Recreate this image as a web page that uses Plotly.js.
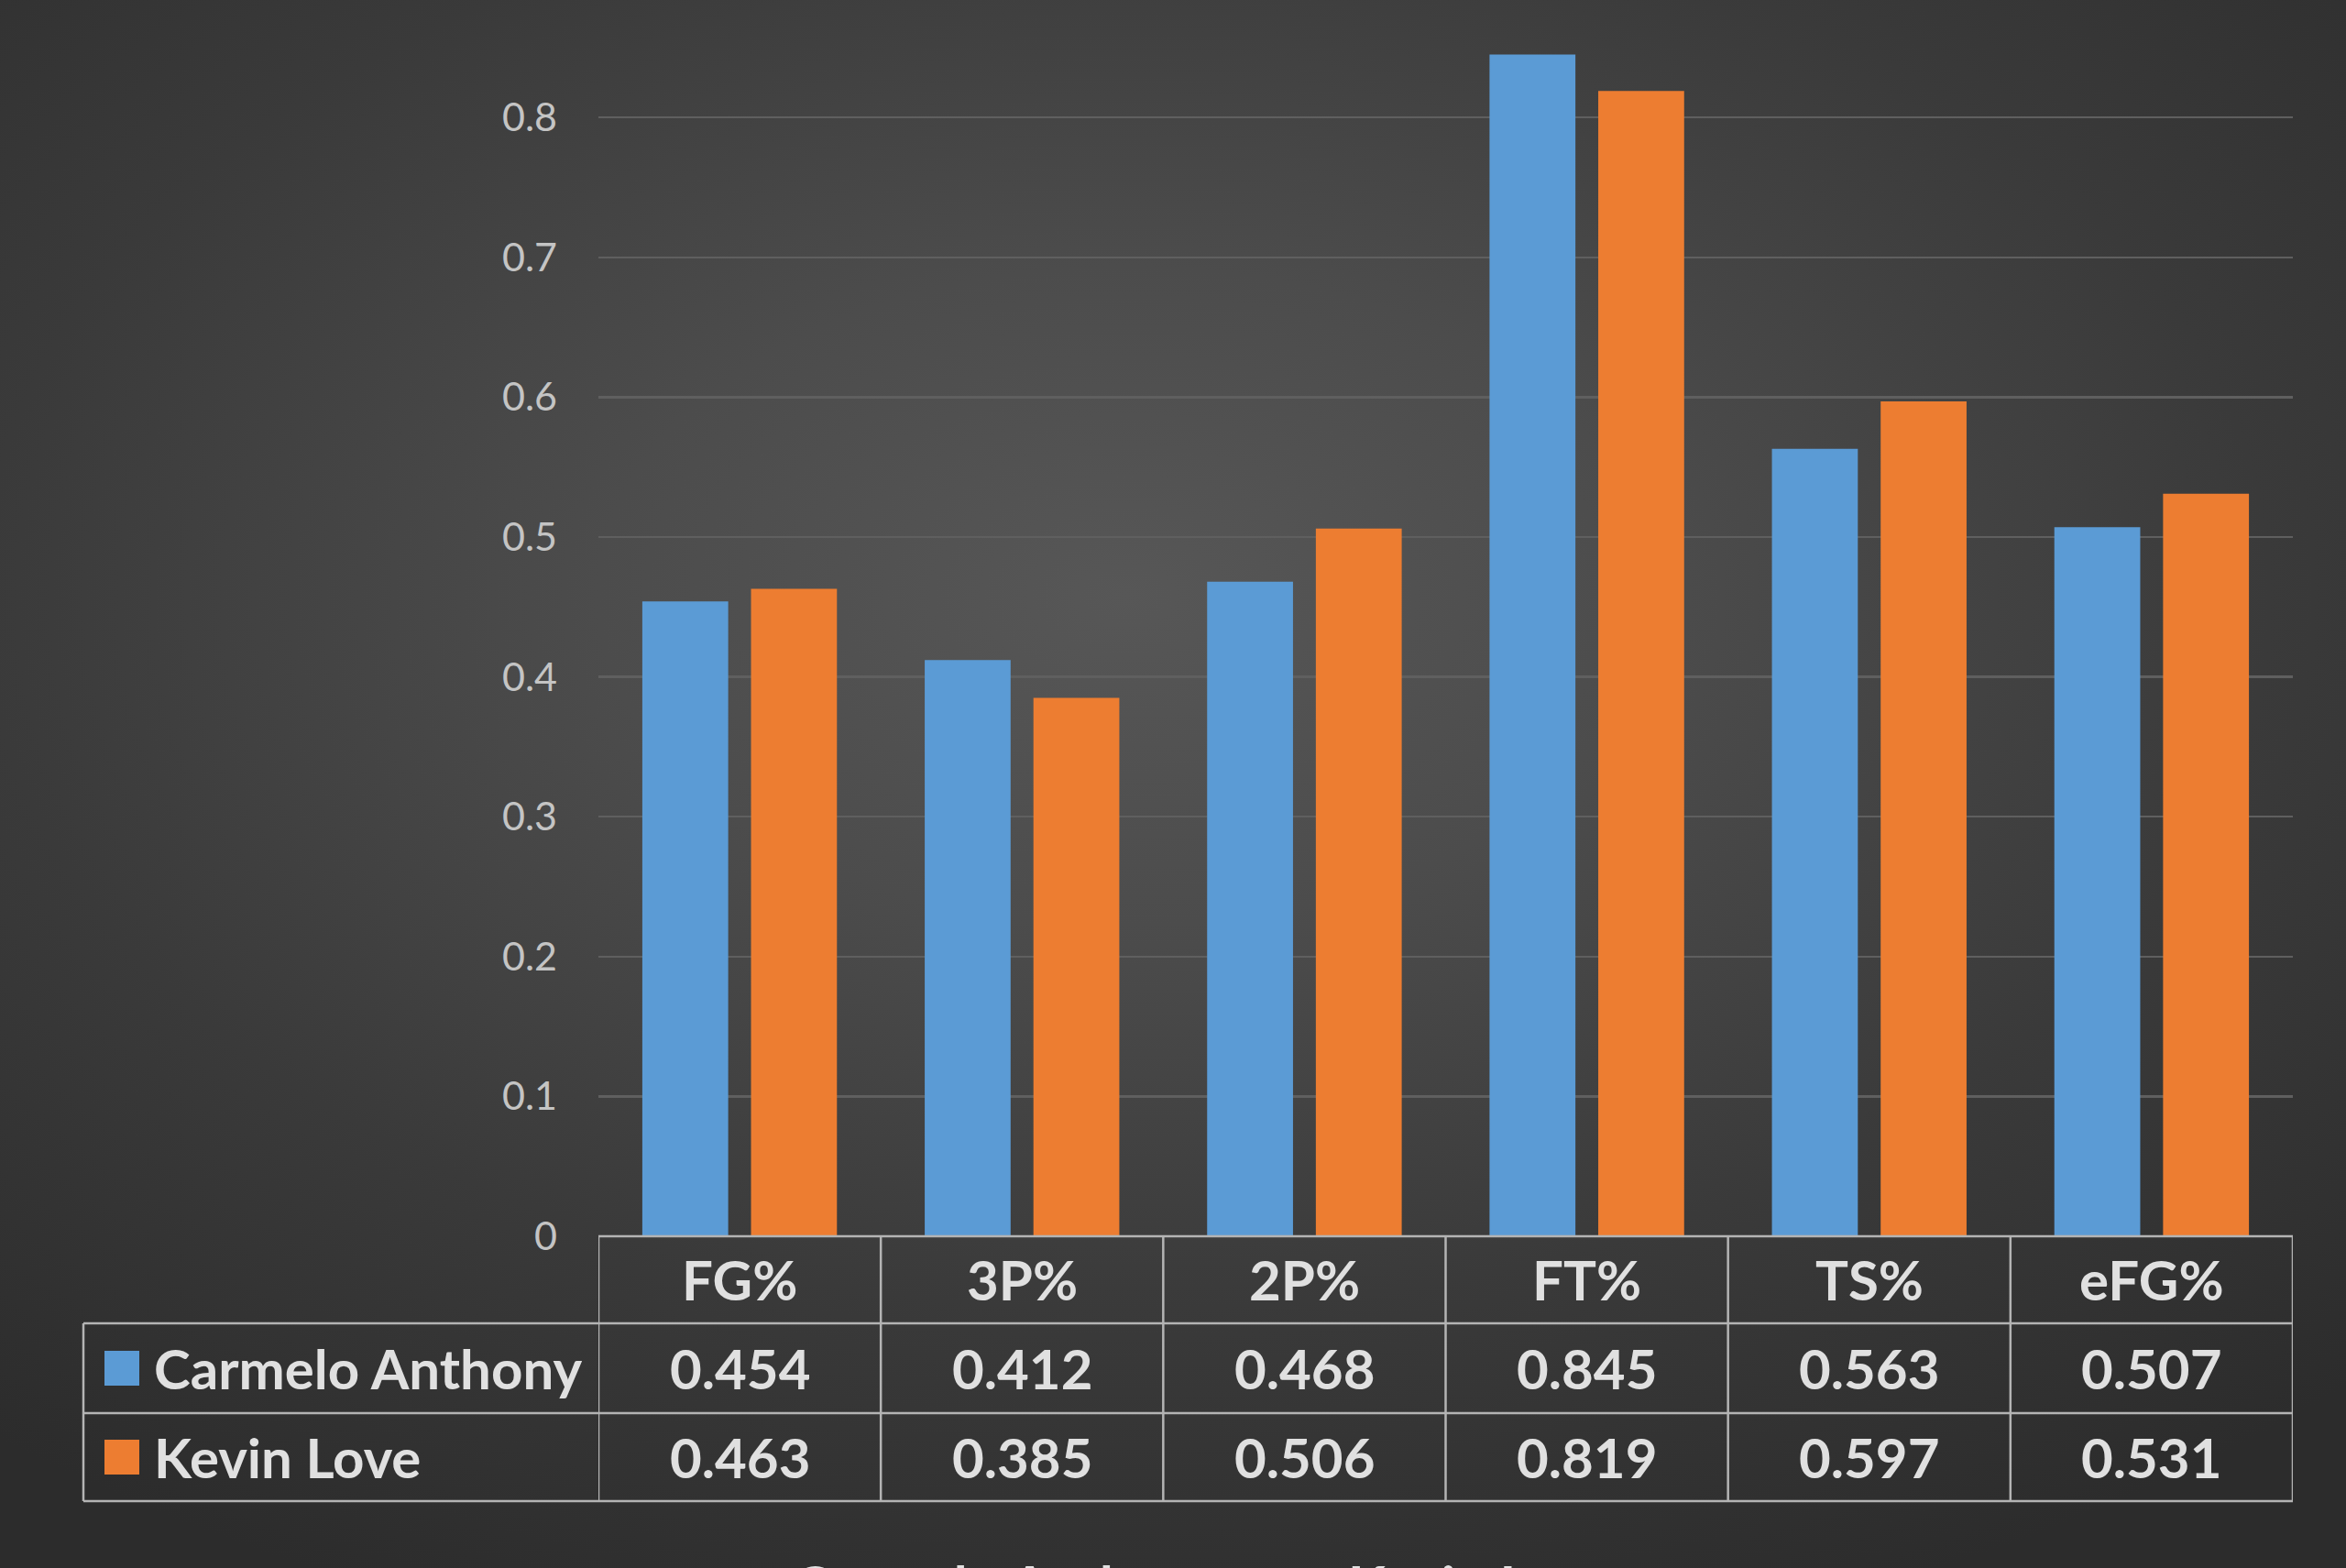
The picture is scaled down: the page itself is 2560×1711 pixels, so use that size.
<!DOCTYPE html>
<html>
<head>
<meta charset="utf-8">
<script src="https://cdn.plot.ly/plotly-3.0.1.min.js"></script>
<style>
  html, body { margin: 0; padding: 0; overflow: hidden; background: #2e2e2e; }
  #wrap {
    width: 2560px; height: 1711px; overflow: hidden;
    background: radial-gradient(ellipse 75% 70% at 48% 38%, #575757 0%, #4c4c4c 30%, #3a3a3a 65%, #2c2c2c 100%);
  }
  #chart { width: 2560px; height: 1780px; }
</style>
</head>
<body>
<div id="wrap"><div id="chart"></div></div>
<script>
/* =========================
   Data
========================= */
const categories = ["FG%", "3P%", "2P%", "FT%", "TS%", "eFG%"];
const carmelo = [0.454, 0.412, 0.468, 0.845, 0.563, 0.507];
const kevinLove = [0.463, 0.385, 0.506, 0.819, 0.597, 0.531];
const seriesNames = ["Carmelo Anthony", "Kevin Love"];
const yTicks = [0, 0.1, 0.2, 0.3, 0.4, 0.5, 0.6, 0.7, 0.8];

const COLORS = ["#5b9bd5", "#ed7d31"];
const FONT = "Lato, 'Open Sans', sans-serif";
const TEXT_COLOR = "#e0e0e0";
const LINE_COLOR = "#b4b4b4";

/* =========================
   Geometry (pixels in the page)
========================= */
const W = 2560, H = 1780;
const M = { l: 653, r: 58, t: 0, b: 431 };
const plotH = H - M.t - M.b;
const plotW = W - M.l - M.r;
const py = Y => (H - M.b - Y) / plotH;   // page y -> paper y
const px = X => (X - M.l) / plotW;       // page x -> paper x

const rowLines = [1444, 1542, 1638];
const rowCenters = [1396, 1493, 1590];   // header, series 1, series 2
const tableLeft = 91;

const traces = [
  { x: categories, y: carmelo, name: seriesNames[0], type: "bar",
    marker: { color: COLORS[0] }, hoverinfo: "skip" },
  { x: categories, y: kevinLove, name: seriesNames[1], type: "bar",
    marker: { color: COLORS[1] }, hoverinfo: "skip" }
];

const shapes = [];
const line = { color: LINE_COLOR, width: 2.5 };
// top line of table (x axis)
shapes.push({ type: "line", xref: "paper", yref: "paper", x0: 0, x1: 1, y0: 0, y1: 0, line });
// row separators
for (const Y of rowLines) {
  shapes.push({ type: "line", xref: "paper", yref: "paper", x0: px(tableLeft), x1: 1, y0: py(Y), y1: py(Y), line });
}
// column separators
for (let i = 0; i <= categories.length; i++) {
  shapes.push({ type: "line", xref: "x", yref: "paper", x0: i - 0.5, x1: i - 0.5, y0: 0, y1: py(rowLines[2]), line });
}
shapes.push({ type: "line", xref: "paper", yref: "paper", x0: px(tableLeft), x1: px(tableLeft),
  y0: py(rowLines[0]), y1: py(rowLines[2]), line });
// legend keys in the table
seriesNames.forEach((n, k) => {
  const c = rowCenters[k + 1];
  shapes.push({ type: "rect", xref: "paper", yref: "paper", x0: px(114), x1: px(152),
    y0: py(c + 19), y1: py(c - 19), fillcolor: COLORS[k], line: { width: 0 } });
});

const annotations = [];
const cellFont = { family: FONT, size: 60, color: TEXT_COLOR, weight: 700 };
categories.forEach((cat, i) => {
  annotations.push({ x: i, xref: "x", y: py(rowCenters[0]), yref: "paper", text: cat,
    showarrow: false, xanchor: "center", yanchor: "middle", font: cellFont });
  annotations.push({ x: i, xref: "x", y: py(rowCenters[1]), yref: "paper", text: carmelo[i].toFixed(3),
    showarrow: false, xanchor: "center", yanchor: "middle", font: cellFont });
  annotations.push({ x: i, xref: "x", y: py(rowCenters[2]), yref: "paper", text: kevinLove[i].toFixed(3),
    showarrow: false, xanchor: "center", yanchor: "middle", font: cellFont });
});
seriesNames.forEach((n, k) => {
  annotations.push({ x: px(166), xref: "paper", y: py(rowCenters[k + 1]), yref: "paper", text: n,
    showarrow: false, xanchor: "left", yanchor: "middle", font: cellFont });
});

const layout = {
  width: W, height: H,
  margin: M,
  paper_bgcolor: "rgba(0,0,0,0)",
  plot_bgcolor: "rgba(0,0,0,0)",
  font: { family: FONT, size: 43, color: "#c4c4c4" },
  barmode: "group",
  bargap: 0.23,
  bargroupgap: 0.21,
  xaxis: { type: "category", range: [-0.5, categories.length - 0.5], showticklabels: false,
    showgrid: false, zeroline: false, showline: false, fixedrange: true },
  yaxis: { range: [0, 0.884], tickvals: yTicks, ticks: "", ticklabelstandoff: 44,
    showgrid: true, gridcolor: "#5f5f5f", gridwidth: 2.5, zeroline: false, showline: false,
    tickfont: { family: FONT, size: 43, color: "#c4c4c4" }, fixedrange: true },
  showlegend: true,
  legend: { orientation: "h", x: px(826), xanchor: "left", y: py(1729), yanchor: "middle",
    entrywidth: 560, entrywidthmode: "pixels",
    bgcolor: "rgba(0,0,0,0)", font: { family: FONT, size: 60, color: TEXT_COLOR, weight: 700 },
    itemclick: false, itemdoubleclick: false },
  shapes, annotations
};

Plotly.newPlot("chart", traces, layout, { displayModeBar: false, staticPlot: true });
</script>
</body>
</html>
